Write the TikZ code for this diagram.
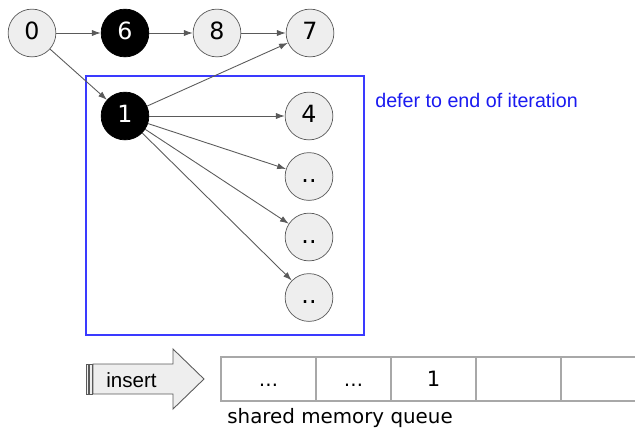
\documentclass[tikz,border=0pt]{standalone}
\usepackage{fontspec}
\setmainfont{DejaVu Sans}
\newfontfamily\notefont{Liberation Sans}
\usetikzlibrary{arrows.meta}
\definecolor{nodegrey}{HTML}{EEEEEE}
\definecolor{edgegrey}{HTML}{5A5A5A}
\definecolor{cellgrey}{HTML}{A8A8A8}
\definecolor{deferblue}{HTML}{3A3AFF}
\definecolor{notegblue}{HTML}{1A1AF0}
\tikzset{
%Define standard arrow tip
>={Latex[length=5pt,width=3.5pt]},
%Define styles for the graph vertices
vertex/.style={circle, draw=edgegrey, fill=nodegrey, minimum size=27.2pt, inner sep=0pt,
  text height=0.73em, text depth=0pt, font=\fontsize{13.5}{15}\selectfont},
visited/.style={vertex, draw=black, fill=black, text=white},
edge/.style={->, draw=edgegrey, line width=0.5pt},
cell/.style={draw=cellgrey, line width=0.7pt},
}

\begin{document}
\begin{tikzpicture}[x=0.02cm, y=-0.02cm]
\useasboundingbox (0,0) rectangle (635,430);

% deferred block
\draw[deferblue, line width=0.6pt] (86,76) rectangle (364,335);
\node[anchor=west, inner sep=0pt, text=notegblue, font=\notefont\fontsize{11.2}{13}\selectfont] (defer) at (375,100) {defer to end of iteration};

% top row
\node[vertex] (n0) at (32,33) {0};
\node[visited] (n6) at (125,33) {6};
\node[vertex] (n8) at (217,33) {8};
\node[vertex] (n7) at (310,33) {7};
\draw[edge] (n0) -- (n6);
\draw[edge] (n6) -- (n8);
\draw[edge] (n8) -- (n7);

% children of 1
\node[visited] (n1) at (125,116) {1};
\node[vertex] (n4) at (309,116) {4};
\node[vertex] (c1) at (309,176.5) {..};
\node[vertex] (c2) at (309,237) {..};
\node[vertex] (c3) at (309,297.5) {..};
\draw[edge] (n0) -- (n1);
\draw[edge] (n1) -- (n7);
\draw[edge] (n1) -- (n4);
\draw[edge] (n1) -- (c1);
\draw[edge] (n1) -- (c2);
\draw[edge] (n1) -- (c3);

% insert arrow
\draw[draw=edgegrey, fill=nodegrey, line width=0.5pt] (86,364) rectangle (88.5,394);
\draw[draw=edgegrey, fill=nodegrey, line width=0.5pt] (89.5,364) rectangle (92,394);
\draw[draw=edgegrey, fill=nodegrey, line width=0.5pt]
  (93,364) -- (173,364) -- (173,349) -- (204,379) -- (173,409) -- (173,394) -- (93,394) -- cycle;
\node[anchor=west, inner sep=0pt, font=\notefont\fontsize{11.7}{13}\selectfont] (insert) at (106,380) {insert};

% shared memory queue
\draw[cell] (221,357) rectangle (640,401);
\foreach \x in {316,391,476,561}
  \draw[cell] (\x,357) -- (\x,401);
\node[anchor=base, font=\fontsize{11}{13}\selectfont] (q1) at (268.5,386) {\ldots};
\node[anchor=base, font=\fontsize{11}{13}\selectfont] (q2) at (353.5,386) {\ldots};
\node[anchor=base, font=\fontsize{12}{14}\selectfont] (q3) at (433.5,386) {1};
\node[anchor=west, inner sep=0pt, font=\fontsize{11.3}{13}\selectfont] (queue) at (227,418) {shared memory queue};

\end{tikzpicture}
\end{document}
